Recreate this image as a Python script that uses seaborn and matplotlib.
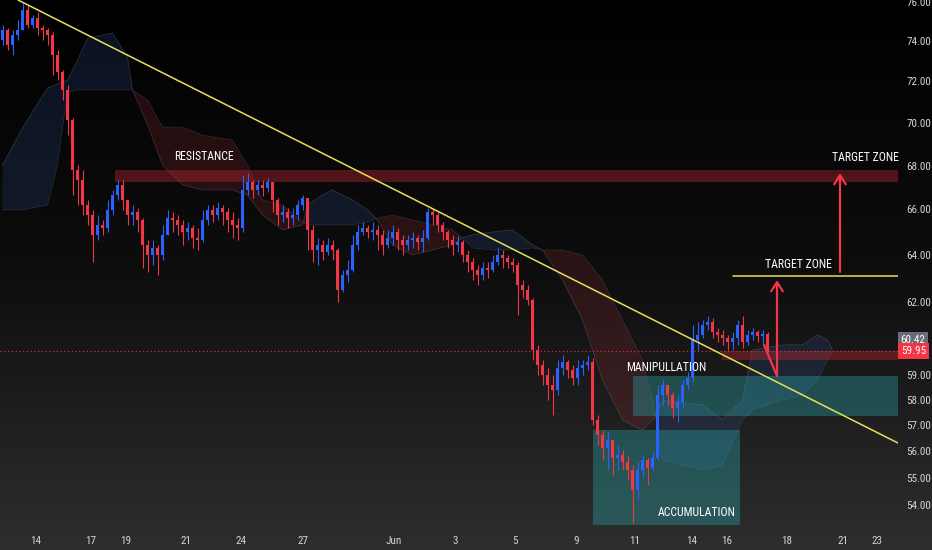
import numpy as np
import matplotlib
matplotlib.use("Agg")
import matplotlib.pyplot as plt
import seaborn as sns
from matplotlib import font_manager
from matplotlib.font_manager import FontProperties
from matplotlib.colors import LinearSegmentedColormap
from matplotlib.ticker import FixedLocator, FixedFormatter, NullLocator

# ---------------- data ----------------
first_open = 74.05
closes = [74.55, 73.80, 74.30, 74.55, 75.57, 74.81, 75.16, 74.65, 74.55, 74.30,
          73.30, 72.46, 71.58, 70.13, 67.79, 67.33, 66.20, 65.75, 64.87, 65.31,
          65.18, 65.98, 66.65, 67.11, 66.43, 65.75, 65.89, 65.53, 64.43, 63.99,
          64.30, 63.99, 64.87, 65.62, 65.53, 65.31, 65.00, 65.18, 64.74, 64.65,
          65.53, 65.98, 65.75, 66.07, 65.89, 65.53, 65.31, 65.18, 66.88, 67.24,
          66.88, 67.11, 66.97, 67.24, 66.43, 65.75, 65.89, 65.62, 65.75, 66.20,
          66.52, 65.09, 64.21, 64.43, 64.12, 64.43, 64.21, 62.49, 63.13, 63.34,
          64.43, 65.00, 65.18, 65.00, 65.09, 64.87, 64.43, 64.74, 65.00, 64.65,
          64.43, 64.65, 64.74, 64.56, 64.74, 65.89, 65.75, 65.31, 65.00, 64.65,
          64.43, 64.56, 63.99, 63.68, 63.34, 63.13, 63.43, 63.34, 63.68, 63.99,
          63.86, 63.68, 63.56, 62.70, 62.49, 62.07, 59.99, 59.39, 58.98, 58.58,
          58.39, 59.26, 59.51, 59.18, 58.86, 59.26, 59.39, 59.51, 57.21, 56.63,
          56.14, 56.44, 55.75, 55.86, 55.60, 55.30, 54.55, 55.30, 55.67, 55.37,
          55.75, 58.19, 58.58, 58.19, 57.68, 57.91, 58.58, 58.86, 60.40, 60.61,
          61.02, 61.15, 60.73, 60.61, 60.48, 60.32, 60.48, 61.02, 60.32, 60.61,
          60.73, 60.57, 60.65, 59.95]
highs = [74.81, 74.65, 74.55, 75.06, 75.93, 75.83, 75.32, 75.47, 74.81, 74.65,
         74.45, 73.55, 72.56, 71.82, 70.22, 68.02, 67.79, 66.43, 65.98, 65.75,
         65.53, 66.43, 66.88, 67.33, 67.33, 66.43, 66.20, 66.07, 65.62, 64.65,
         64.65, 64.43, 65.31, 65.98, 65.89, 65.75, 65.53, 65.44, 65.31, 65.18,
         65.98, 66.20, 66.20, 66.34, 66.20, 66.07, 65.89, 65.62, 67.56, 67.65,
         67.33, 67.33, 67.33, 67.42, 67.24, 66.52, 66.20, 66.07, 66.07, 66.43,
         66.65, 66.43, 65.31, 64.74, 64.65, 64.74, 64.65, 64.30, 63.34, 63.77,
         64.87, 65.31, 65.44, 65.31, 65.44, 65.31, 65.09, 65.09, 65.31, 65.18,
         64.87, 64.87, 65.00, 64.87, 65.09, 66.07, 66.07, 65.89, 65.44, 65.09,
         64.87, 64.83, 64.65, 64.21, 63.86, 63.56, 63.68, 63.68, 63.99, 64.30,
         64.21, 63.99, 63.86, 63.68, 62.91, 62.70, 62.16, 60.20, 59.59, 59.26,
         58.98, 59.59, 59.79, 59.59, 59.39, 59.59, 59.59, 59.79, 59.67, 57.40,
         56.82, 56.74, 56.44, 56.25, 56.05, 55.86, 55.49, 55.60, 55.86, 55.75,
         55.97, 58.58, 58.78, 58.58, 58.31, 58.19, 58.78, 59.10, 61.02, 61.15,
         61.23, 61.40, 61.31, 60.89, 60.81, 60.61, 60.73, 61.23, 61.40, 60.81,
         60.89, 60.81, 60.81, 60.73]
lows = [73.80, 73.55, 73.30, 74.05, 74.55, 74.65, 74.65, 74.30, 74.05, 73.80,
        72.31, 72.07, 71.09, 69.42, 66.65, 66.20, 65.75, 65.31, 63.68, 64.65,
        64.87, 65.00, 65.75, 66.43, 65.98, 65.31, 65.31, 65.00, 63.43, 63.26,
        63.56, 63.13, 63.77, 64.87, 65.00, 64.87, 64.43, 64.65, 64.30, 64.21,
        64.56, 65.31, 65.44, 65.53, 65.31, 65.00, 64.74, 64.65, 65.00, 66.65,
        66.52, 66.65, 66.61, 66.79, 65.89, 65.31, 65.44, 65.18, 65.31, 65.53,
        65.98, 64.21, 63.68, 63.56, 63.77, 63.99, 63.77, 61.99, 62.41, 62.83,
        63.26, 64.21, 64.87, 64.74, 64.65, 64.21, 63.99, 64.30, 64.43, 64.21,
        63.99, 64.21, 64.30, 64.21, 64.12, 64.65, 65.31, 65.00, 64.65, 64.30,
        63.99, 64.12, 63.68, 63.26, 62.91, 62.70, 62.91, 63.00, 63.26, 63.56,
        63.43, 63.43, 63.26, 61.44, 62.16, 61.86, 59.59, 58.98, 58.58, 57.99,
        57.40, 58.19, 58.98, 58.86, 58.58, 58.58, 58.98, 59.18, 57.01, 56.25,
        55.67, 55.30, 55.11, 55.30, 55.30, 54.92, 53.34, 54.18, 55.00, 54.74,
        55.30, 55.67, 57.79, 57.79, 57.29, 57.13, 57.68, 58.39, 58.70, 59.99,
        60.48, 60.81, 60.48, 60.32, 60.20, 59.99, 59.99, 60.20, 60.07, 60.20,
        60.40, 60.32, 60.20, 59.93]

cloud_bar = [0, 4, 9, 11, 13, 15, 17, 22, 25, 26, 29, 32, 36, 40, 46, 49, 52, 56,
             60, 61, 64, 66, 70, 73, 75, 78, 82, 86, 90, 92, 94, 98, 102, 106, 108,
             112, 116, 120, 124, 128, 130, 132, 140, 144, 148, 150, 156, 160, 163,
             165, 166]
span_a = [68.02, 69.76, 71.68, 71.87, 72.07, 73.05, 74.15, 74.40, 73.20, 71.58,
          69.90, 68.02, 67.11, 66.88, 66.88, 66.65, 65.75, 65.09, 65.31, 66.20,
          66.65, 66.88, 66.43, 65.98, 65.53, 64.43, 63.99, 64.21, 64.43, 64.74,
          64.87, 65.00, 65.09, 64.43, 64.21, 62.91, 61.23, 58.78, 57.21, 56.82,
          57.21, 57.99, 57.79, 57.21, 57.99, 59.99, 60.20, 60.20, 60.61, 60.40,
          59.99]
span_b = [65.98, 65.98, 66.20, 68.02, 71.48, 71.58, 71.58, 71.58, 71.58, 71.58,
          71.09, 69.80, 69.80, 69.42, 69.19, 68.02, 66.43, 66.20, 65.44, 65.31,
          65.31, 65.31, 65.31, 65.44, 65.62, 65.75, 65.53, 65.31, 65.09, 64.74,
          64.30, 64.21, 64.21, 64.30, 64.21, 64.21, 63.99, 62.91, 61.23, 59.59,
          57.99, 55.67, 55.30, 55.49, 57.21, 57.60, 57.99, 58.19, 58.78, 59.59,
          59.91]

x_tick_labels = ["14", "17", "19", "21", "24", "27", "Jun", "3", "5", "9",
                 "11", "14", "16", "18", "21", "23"]
x_tick_bars = [6.7, 17.7, 24.7, 36.7, 47.7, 60.1, 78.3, 90.5, 102.5, 114.7,
               126.5, 137.9, 144.9, 156.9, 168.1, 174.9]
y_tick_values = [54, 55, 56, 57, 58, 59, 62, 64, 66, 68, 70, 72, 74, 76]

resistance_zone = (67.24, 67.79)
manipulation_zone = (57.38, 58.95)
accumulation_top = 56.83
sell_zone = (59.60, 59.95)
target_level = 63.10
last_price = 59.95
ref_price = 60.42

# ---------------- style ----------------
sns.set_theme(style="dark")
plt.rcParams["font.family"] = ["DejaVu Sans"]

# look for a narrow / condensed font file
fp_path = None
prefs = ["LiberationSansNarrow-Regular", "RobotoCondensed-Regular",
         "OpenSans_Condensed-Regular", "OpenSans-CondensedRegular",
         "NotoSans-CondensedRegular", "NotoSansCondensed-Regular",
         "DejaVuSansCondensed.ttf", "Roboto_Condensed-Regular"]
files = [f.fname for f in font_manager.fontManager.ttflist]
for p in prefs:
    hits = [f for f in files if p.lower() in f.lower()]
    if hits:
        fp_path = hits[0]
        break
if fp_path is None:
    hits = [f for f in files if ("narrow" in f.lower() or "condensed" in f.lower())
            and "bold" not in f.lower() and "italic" not in f.lower()
            and "oblique" not in f.lower() and "light" not in f.lower()]
    if hits:
        fp_path = hits[0]
if fp_path is not None:
    FP = FontProperties(fname=fp_path)
else:
    FP = FontProperties(family="DejaVu Sans", stretch="condensed")

def fprop(size):
    f = FP.copy()
    f.set_size(size)
    return f

RED = "#f23645"
BLUE = "#2962ff"
TEAL = "#2aa3a6"
YELLOW = "#e6e05a"
TXT = "#d1d4dc"

fig = plt.figure(figsize=(9.32, 5.5), dpi=100)

bg = fig.add_axes([0, 0, 1, 1])
grad = np.linspace(0, 1, 256).reshape(-1, 1)
cmap = LinearSegmentedColormap.from_list("bg", ["#000000", "#0e0e0e", "#2e2e2e"])
bg.imshow(grad, aspect="auto", cmap=cmap, extent=[0, 1, 0, 1])
bg.set_axis_off()

ax = fig.add_axes([0, 25 / 550, 898 / 932, 525 / 550])
ax.patch.set_alpha(0)
ax.set_yscale("log")
ax.set_xlim(-0.5, 179.1)
ax.set_ylim(53.27, 76.09)
for s in ax.spines.values():
    s.set_visible(False)
ax.grid(False)

# ichimoku-like cloud
cb = np.array(cloud_bar, float)
sa = np.array(span_a)
sb = np.array(span_b)
ax.fill_between(cb, sa, sb, where=sa >= sb, interpolate=True,
                color="#2d4f94", alpha=0.22, lw=0, zorder=1)
ax.fill_between(cb, sa, sb, where=sa < sb, interpolate=True,
                color="#9a2c35", alpha=0.22, lw=0, zorder=1)
sns.lineplot(x=cb, y=sa, ax=ax, color="#7a8499", lw=0.5, alpha=0.35, zorder=2)
sns.lineplot(x=cb, y=sb, ax=ax, color="#7a8499", lw=0.5, alpha=0.25, zorder=2)

# zones
ax.axhspan(*resistance_zone, xmin=(22.5 + 0.5) / 179.6, xmax=1,
           color="#b3262f", alpha=0.42, lw=0, zorder=2)
ax.axhspan(*manipulation_zone, xmin=(126.1 + 0.5) / 179.6, xmax=1,
           color=TEAL, alpha=0.38, lw=0, zorder=2)
ax.fill_between([118.1, 147.5], [53.27, 53.27], [accumulation_top, accumulation_top],
                color=TEAL, alpha=0.38, lw=0, zorder=2)
ax.axhspan(*sell_zone, xmin=(143.9 + 0.5) / 179.6, xmax=1,
           color="#b3262f", alpha=0.42, lw=0, zorder=2)

# candles
o = np.array([first_open] + closes[:-1])
c = np.array(closes)
h = np.array(highs)
l = np.array(lows)
xb = np.arange(len(c))
cols = np.where(c >= o, BLUE, RED)
ax.vlines(xb, l, h, colors=cols, lw=0.8, zorder=3)
body_lo = np.minimum(o, c)
body_h = np.maximum(np.abs(c - o), 0.04)
ax.bar(xb, body_h, bottom=body_lo, width=0.5, color=cols, lw=0, zorder=4)

# last price dotted line
ax.axhline(last_price, color="#d0303c", lw=0.9, ls=(0, (1, 2)), zorder=2)

# trend line
ax.plot([3.1, 179.1], [76.09, 56.32], color=YELLOW, lw=1.1, zorder=5)
# target line
ax.plot([146.1, 179.1], [target_level, target_level], color=YELLOW, lw=1.1, zorder=5)

# arrows
ax.plot([152.3, 154.9], [60.20, 58.94], color=RED, lw=1.6, zorder=6)
ax.annotate("", xy=(154.9, 62.91), xytext=(154.9, 58.94),
            arrowprops=dict(arrowstyle="->,head_length=0.55,head_width=0.35",
                            color=RED, lw=1.6, shrinkA=0, shrinkB=0), zorder=6)
ax.annotate("", xy=(167.5, 67.65), xytext=(167.5, 63.26),
            arrowprops=dict(arrowstyle="->,head_length=0.55,head_width=0.35",
                            color=RED, lw=1.6, shrinkA=0, shrinkB=0), zorder=6)

# labels
tk = dict(color="white", ha="center", va="center", zorder=7, fontproperties=fprop(8.5))
ax.text(40.3, 68.40, "RESISTANCE", **tk)
ax.text(159.1, 63.60, "TARGET ZONE", **tk)
ax.text(172.6, 68.35, "TARGET ZONE", **tk)
ax.text(132.7, 59.30, "MANIPULLATION", **tk)
ax.text(138.9, 53.74, "ACCUMULATION", **tk)

# axes ticks
ax.yaxis.tick_right()
ax.yaxis.set_major_locator(FixedLocator(y_tick_values))
ax.yaxis.set_major_formatter(FixedFormatter([f"{v:.2f}" for v in y_tick_values]))
ax.yaxis.set_minor_locator(NullLocator())
ax.set_xticks(x_tick_bars)
ax.set_xticklabels(x_tick_labels)
ax.tick_params(axis="both", length=0, colors=TXT)
ax.tick_params(axis="y", pad=6)
ax.tick_params(axis="x", pad=8)
for lbl in ax.get_yticklabels() + ax.get_xticklabels():
    lbl.set_fontproperties(fprop(8))
ax.set_xlabel("")
ax.set_ylabel("")

# price labels on scale
tr = ax.get_yaxis_transform()
ax.text(1.003, ref_price, f"{ref_price:.2f}", transform=tr, color="white",
        ha="left", va="center", zorder=8, clip_on=False, fontproperties=fprop(8),
        bbox=dict(boxstyle="square,pad=0.25", fc="#6a6d78", ec="none"))
ax.text(1.003, last_price, f"{last_price:.2f}", transform=tr, color="white",
        ha="left", va="center", zorder=8, clip_on=False, fontproperties=fprop(8),
        bbox=dict(boxstyle="square,pad=0.25", fc=RED, ec="none"))

fig.savefig("out.png", dpi=100, facecolor="black")
